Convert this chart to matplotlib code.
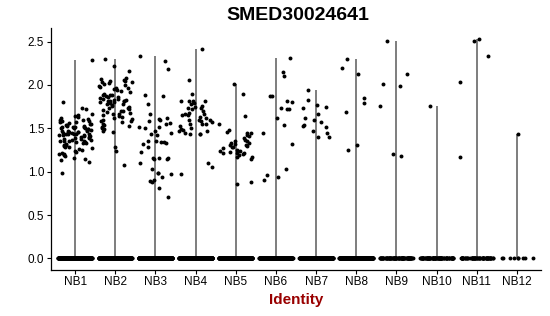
import numpy as np
import matplotlib
matplotlib.use("Agg")
import matplotlib.pyplot as plt

plt.rcParams['font.family'] = ['Liberation Sans', 'DejaVu Sans']

title = "SMED30024641"
x_label = "Identity"
categories = ["NB1", "NB2", "NB3", "NB4", "NB5", "NB6", "NB7", "NB8", "NB9", "NB10", "NB11", "NB12"]
y_ticks = [0.0, 0.5, 1.0, 1.5, 2.0, 2.5]

# number of cells with zero expression per identity
zero_counts = [320, 320, 320, 320, 300, 280, 260, 260, 80, 80, 60, 9]

nb1 = [2.29, 1.80, 1.73, 1.72, 1.11, 0.98, 1.13,
       1.66, 1.47, 1.38, 1.63, 1.52, 1.41, 1.29, 1.58, 1.44, 1.35, 1.62, 1.50,
       1.21, 1.46, 1.56, 1.33, 1.43, 1.60, 1.27, 1.49, 1.39, 1.54, 1.45, 1.31,
       1.59, 1.42, 1.24, 1.51, 1.36, 1.48, 1.64, 1.19, 1.40, 1.53, 1.34, 1.47,
       1.57, 1.26, 1.44, 1.37, 1.50, 1.61, 1.30, 1.45, 1.22, 1.55, 1.41, 1.32,
       1.48, 1.18, 1.52, 1.39, 1.43, 1.57, 1.28, 1.46, 1.36, 1.54, 1.16, 1.49,
       1.42, 1.33, 1.51, 1.25, 1.47, 1.38, 1.60, 1.44, 1.31, 1.53, 1.20, 1.40,
       1.46, 1.35, 1.55, 1.42, 1.23, 1.50, 1.37, 1.65, 1.15, 1.45, 1.34]
nb2 = [2.30, 2.22, 2.165, 2.07, 1.49, 1.28, 1.24, 1.08, 1.46, 1.47,
       2.05, 2.04, 2.06, 2.03, 2.08, 2.02, 2.05, 1.99, 1.97, 2.01, 1.95,
       1.93, 1.96, 1.90, 1.88, 1.86, 1.85, 1.87, 1.84, 1.83, 1.82, 1.84,
       1.81, 1.80, 1.79, 1.82, 1.78, 1.77, 1.81, 1.76, 1.74, 1.72, 1.73,
       1.70, 1.69, 1.71, 1.67, 1.66, 1.68, 1.65, 1.63, 1.62, 1.60, 1.58,
       1.57, 1.55, 1.53, 1.52, 1.50, 1.89, 1.92, 1.98, 1.75, 1.64, 1.59,
       1.86, 1.80, 1.94, 1.78, 1.70, 1.61, 1.54, 1.83, 1.88, 2.00]
nb3 = [2.28, 2.18, 2.33, 1.87, 1.88, 1.78, 1.66, 1.61, 1.60, 1.56, 1.52,
       1.50, 1.44, 1.33, 1.42, 1.35, 1.34, 1.34, 1.28, 1.23, 1.145, 1.16,
       1.16, 1.10, 1.16, 1.03, 0.98, 0.99, 0.97, 0.89, 0.876, 0.81, 0.71,
       0.94, 0.91, 1.55, 1.47, 1.45, 1.36, 1.32, 1.15, 1.58, 1.62, 1.52]
nb4 = [2.41, 2.055, 1.90, 1.795, 1.82, 1.81, 1.81, 1.81, 1.74, 1.75,
       1.757, 1.73, 1.70, 1.65, 1.66, 1.68, 1.65, 1.66, 1.575, 1.545, 1.53,
       1.60, 1.55, 1.60, 1.60, 1.545, 1.50, 1.44, 1.095, 1.44, 1.45, 1.47,
       1.48, 1.47, 1.44, 1.057, 0.976, 1.78, 1.62, 1.58, 1.49, 1.72, 1.63]
nb5 = [2.015, 1.90, 1.64, 1.55, 1.45, 1.46, 1.476, 1.445, 1.415, 1.384,
       1.307, 1.315, 1.30, 1.33, 1.307, 1.364, 1.356, 1.326, 1.28, 1.215,
       1.24, 1.23, 1.215, 1.19, 1.165, 1.22, 1.165, 1.145, 1.24, 0.884, 0.86,
       1.27, 1.35, 1.29, 1.20, 1.42, 1.25]
nb6 = [2.307, 2.15, 2.105, 1.87, 1.81, 1.87, 1.80, 1.72, 1.73, 1.72,
       1.62, 1.537, 1.445, 1.32, 1.03, 0.91, 0.96, 0.94]
nb7 = [1.94, 1.826, 1.77, 1.74, 1.75, 1.62, 1.60, 1.575, 1.537, 1.47,
       1.67, 1.395, 1.40, 1.518, 1.53, 1.445]
nb8 = [2.13, 1.85, 2.20, 2.30, 1.79, 1.69, 1.31, 1.25]
nb9 = [2.51, 1.99, 2.13, 2.01, 1.76, 1.18, 1.21]
nb10 = [1.76]
nb11 = [2.53, 2.51, 2.33, 2.04, 1.165]
nb12 = [1.44]
expr = [nb1, nb2, nb3, nb4, nb5, nb6, nb7, nb8, nb9, nb10, nb11, nb12]

fig = plt.figure(figsize=(5.5, 3.16), dpi=100)
ax = fig.add_axes([51/550, 1 - 269.5/316, (541 - 51)/550, (269.5 - 28)/316])

rng = np.random.default_rng(7)
for i, (vals, nz) in enumerate(zip(expr, zero_counts)):
    allv = np.concatenate([np.zeros(nz), np.array(vals)])
    ax.vlines(i, 0, allv.max(), color='#5a5a5a', lw=1.1, zorder=1)
    jit = rng.uniform(-0.42, 0.42, size=allv.size)
    ax.scatter(i + jit, allv, s=8, c='black', linewidths=0, zorder=2)

ax.set_xlim(-0.6, len(categories) - 0.4)
ax.set_ylim(-0.127, 2.657)
ax.set_xticks(range(len(categories)))
ax.set_xticklabels(categories)
ax.set_yticks(y_ticks)
ax.set_yticklabels([f"{v:.1f}" for v in y_ticks])
for s in ['top', 'right']:
    ax.spines[s].set_visible(False)
for s in ['left', 'bottom']:
    ax.spines[s].set_linewidth(0.9)
ax.tick_params(axis='both', length=3, width=0.8, labelsize=8.5, pad=2, colors='black')

ax.set_xlabel(x_label, fontsize=11, fontweight='bold', color='#990000', labelpad=3)
fig.text(298/550, 1 - 16/316, title, ha='center', va='center', fontsize=14, fontweight='bold')

fig.savefig("out.png", dpi=100)
